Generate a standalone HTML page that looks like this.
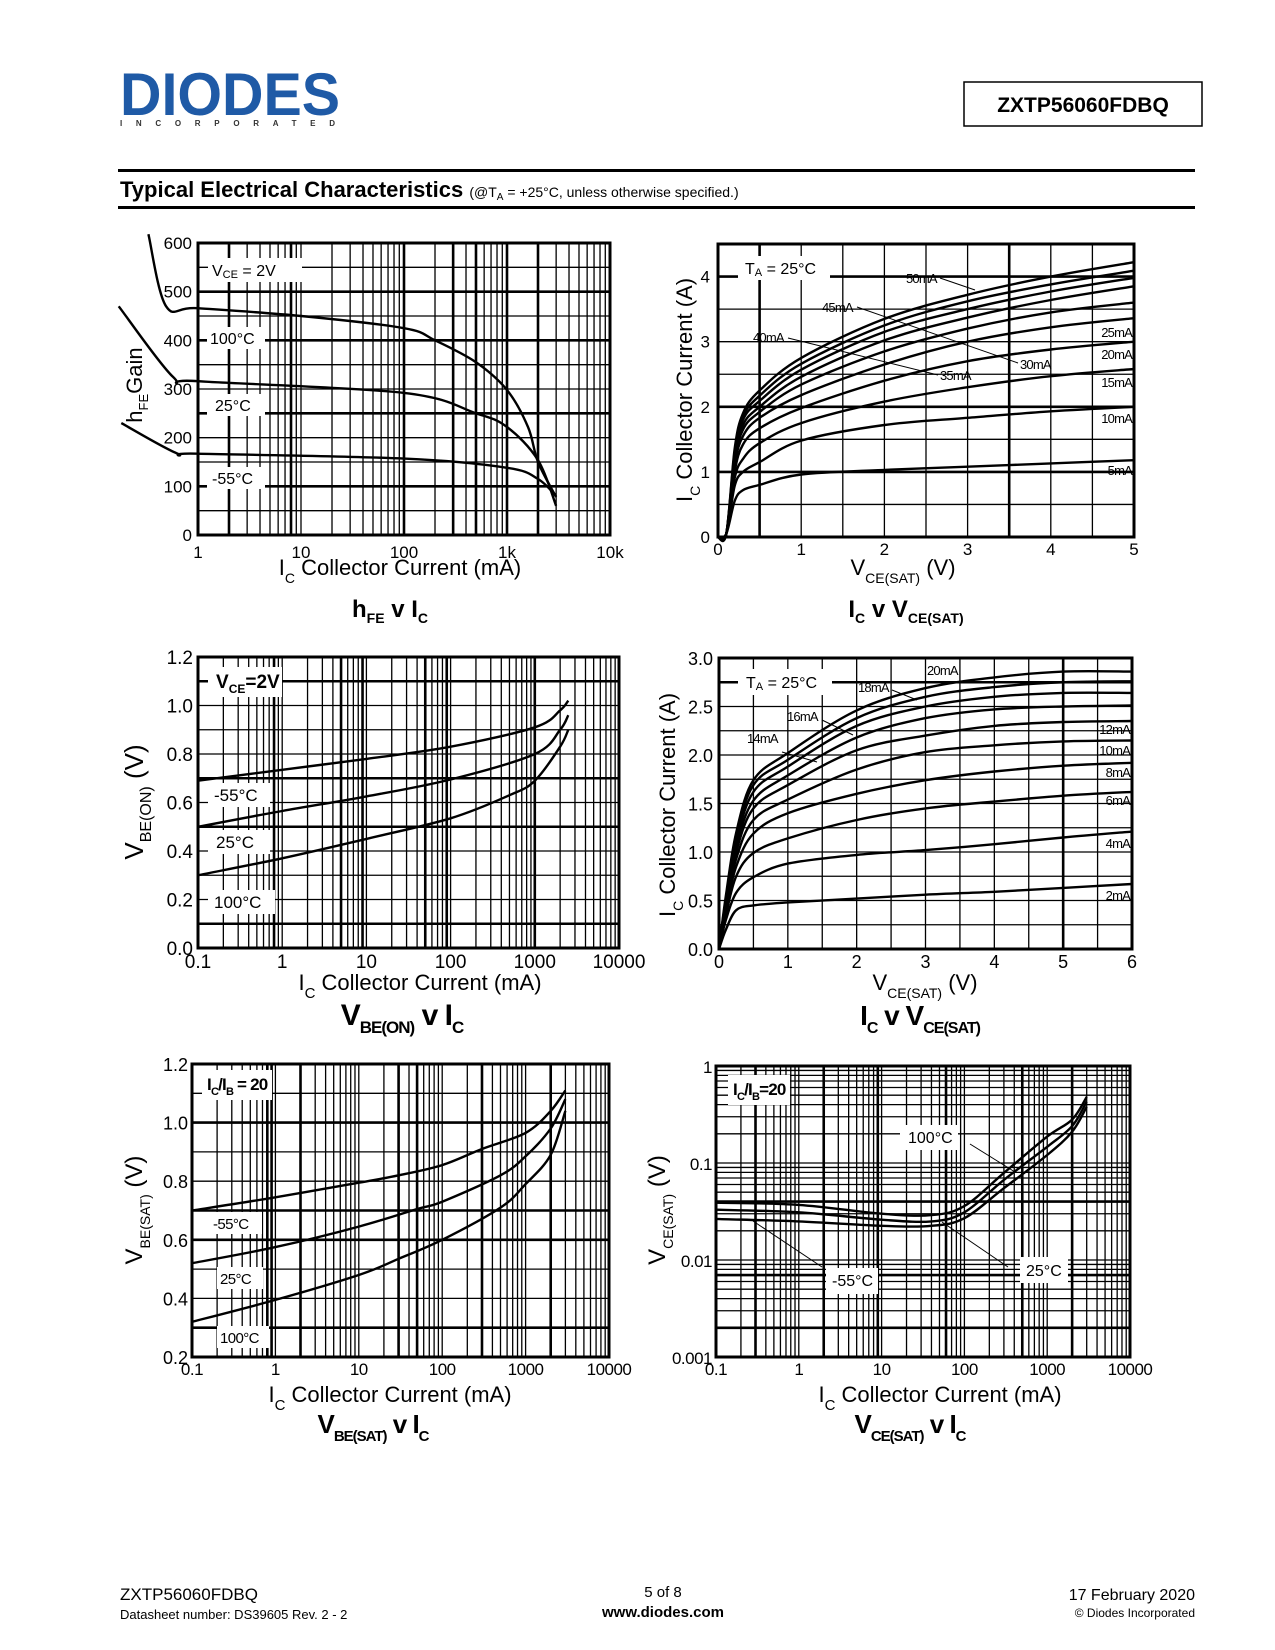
<!DOCTYPE html>
<html><head><meta charset="utf-8"><title>ZXTP56060FDBQ Typical Electrical Characteristics</title>
<style>
html,body{margin:0;padding:0;background:#fff;}
svg{display:block;font-family:"Liberation Sans",Arial,sans-serif;}
</style></head>
<body>
<svg id="page" width="1275" height="1650" viewBox="0 0 1275 1650" xmlns="http://www.w3.org/2000/svg">
  <g>
    <text x="120" y="115" font-size="60" font-weight="bold" fill="#1f5aa6" textLength="220" lengthAdjust="spacingAndGlyphs">DIODES</text>
    <text x="120" y="126" font-size="8" font-weight="bold" fill="#333" textLength="215" lengthAdjust="spacing">INCORPORATED</text>
    <rect x="964" y="82" width="238" height="44" fill="none" stroke="#000" stroke-width="1.5"/>
    <text x="1083" y="112" font-size="21" font-weight="bold" text-anchor="middle">ZXTP56060FDBQ</text>
    <rect x="118" y="169" width="1077" height="3" fill="#000"/>
    <text x="120" y="197" font-size="22" font-weight="bold">Typical Electrical Characteristics <tspan font-size="14" font-weight="normal">(@T<tspan font-size="10" dy="3">A</tspan><tspan dy="-3"> = +25°C, unless otherwise specified.)</tspan></tspan></text>
    <rect x="118" y="206" width="1077" height="3" fill="#000"/>
  </g>
  <g font-size="15">
    <text x="120" y="1600" font-size="17">ZXTP56060FDBQ</text>
    <text x="120" y="1619" font-size="13">Datasheet number: DS39605 Rev. 2 - 2</text>
    <text x="663" y="1597" text-anchor="middle" font-size="15">5 of 8</text>
    <text x="663" y="1617" text-anchor="middle" font-size="15" font-weight="bold">www.diodes.com</text>
    <text x="1195" y="1600" text-anchor="end" font-size="16">17 February 2020</text>
    <text x="1195" y="1617" text-anchor="end" font-size="12">© Diodes Incorporated</text>
  </g>
  <g id="charts"></g>
</svg>
<script>
// ---- Chart 1: hFE v IC ----
const hfeTicksY = [0,100,200,300,400,500,600];
const hfeTicksX = ["1","10","100","1k","10k"];
const hfe100X = [0.33,0.49,1,10,100,200,500,1000,1600,2000,3000];
const hfe100Y = [618,470,466,450,425,400,355,298,222,150,78];
const hfe25X = [0.17,0.57,1,100,500,1000,2000,3000];
const hfe25Y = [470,325,316,292,250,222,154,60];
const hfem55X = [0.18,0.62,1,100,1000,2000,3000];
const hfem55Y = [230,168,167,157,138,115,80];
// ---- Chart 2: IC v VCE(SAT), 5..50mA ----
const vce2 = [0,0.1,0.2,0.3,0.5,1,2,3,4,5];
const ib2Labels = ["50mA","45mA","40mA","35mA","30mA","25mA","20mA","15mA","10mA","5mA"];
const ic2_50 = [0,0.05,1.35,1.9,2.25,2.75,3.35,3.72,4.0,4.22];
const ic2_45 = [0,0.05,1.3,1.85,2.17,2.66,3.25,3.62,3.88,4.09];
const ic2_40 = [0,0.05,1.25,1.8,2.09,2.57,3.15,3.5,3.77,3.98];
const ic2_35 = [0,0.05,1.2,1.72,2.0,2.46,3.02,3.37,3.64,3.85];
const ic2_30 = [0,0.05,1.15,1.65,1.92,2.34,2.85,3.2,3.45,3.6];
const ic2_25 = [0,0.05,1.1,1.55,1.83,2.18,2.65,3.0,3.22,3.36];
const ic2_20 = [0,0.05,1.0,1.42,1.67,1.98,2.4,2.7,2.88,3.0];
const ic2_15 = [0,0.05,0.9,1.2,1.44,1.75,2.08,2.3,2.47,2.58];
const ic2_10 = [0,0.05,0.78,1.0,1.15,1.48,1.72,1.83,1.93,2.0];
const ic2_5 = [0,0.05,0.55,0.72,0.8,0.96,1.03,1.08,1.13,1.18];
// ---- Chart 3: VBE(ON) v IC ----
const vbeonTicksY = ["0.0","0.2","0.4","0.6","0.8","1.0","1.2"];
const logTicksX = ["0.1","1","10","100","1000","10000"];
const vbeonXm55 = [0.1,1,10,100,1000,2000,2500];
const vbeonYm55 = [0.69,0.735,0.78,0.83,0.91,0.98,1.02];
const vbeonX25 = [0.1,1,10,100,1000,2000,2500];
const vbeonY25 = [0.5,0.565,0.625,0.695,0.8,0.9,0.96];
const vbeonX100 = [0.1,1,10,100,500,1000,2000,2500];
const vbeonY100 = [0.3,0.37,0.45,0.535,0.63,0.69,0.83,0.9];
// ---- Chart 4: IC v VCE(SAT), 2..20mA ----
const vce4 = [0,0.1,0.25,0.5,1,2,3,4,5,6];
const ic4_20 = [0,0.55,1.2,1.74,2.02,2.46,2.69,2.8,2.86,2.86];
const ic4_18 = [0,0.52,1.15,1.69,1.95,2.38,2.6,2.7,2.75,2.76];
const ic4_16 = [0,0.5,1.1,1.62,1.88,2.3,2.5,2.6,2.64,2.64];
const ic4_14 = [0,0.47,1.05,1.53,1.79,2.18,2.38,2.47,2.5,2.51];
const ic4_12 = [0,0.45,1.0,1.45,1.69,2.05,2.2,2.3,2.34,2.35];
const ic4_10 = [0,0.42,0.93,1.33,1.54,1.85,2.03,2.1,2.14,2.15];
const ic4_8 = [0,0.4,0.85,1.19,1.40,1.60,1.74,1.83,1.89,1.92];
const ic4_6 = [0,0.35,0.75,0.99,1.14,1.33,1.45,1.52,1.58,1.62];
const ic4_4 = [0,0.3,0.58,0.74,0.88,0.97,1.02,1.08,1.15,1.21];
const ic4_2 = [0,0.2,0.4,0.45,0.48,0.52,0.56,0.59,0.63,0.67];
// ---- Chart 5: VBE(SAT) v IC ----
const vbesatTicksY = ["0.2","0.4","0.6","0.8","1.0","1.2"];
const vbesatXm55 = [0.1,1,10,30,100,300,1000,2000,3000];
const vbesatYm55 = [0.70,0.745,0.795,0.82,0.855,0.91,0.965,1.04,1.11];
const vbesatX25 = [0.1,1,10,50,100,500,1000,2000,3000];
const vbesatY25 = [0.52,0.575,0.645,0.705,0.73,0.82,0.885,0.98,1.08];
const vbesatX100 = [0.1,1,10,30,100,500,1000,2000,3000];
const vbesatY100 = [0.32,0.395,0.48,0.535,0.6,0.71,0.79,0.89,1.04];
// ---- Chart 6: VCE(SAT) v IC ----
const vcesatTicksY = ["0.001","0.01","0.1","1"];
const vcesatX = [0.1,1,10,40,100,300,1000,2000,3000];
const vcesat100 = [0.039,0.037,0.03,0.029,0.036,0.079,0.187,0.28,0.48];
const vcesat25 = [0.033,0.031,0.026,0.025,0.031,0.067,0.147,0.24,0.43];
const vcesatm55 = [0.0265,0.025,0.0225,0.0225,0.027,0.055,0.121,0.21,0.38];

const NS = "http://www.w3.org/2000/svg";
const root = document.getElementById('charts');
function mk(parent, tag, attrs, name, inter) {
  const el = document.createElementNS(NS, tag);
  for (const k in attrs) el.setAttribute(k, attrs[k]);
  
  
  parent.appendChild(el);
  return el;
}
function lin(d0, d1, p0, p1) { return v => p0 + (v - d0) / (d1 - d0) * (p1 - p0); }
function lg(d0, d1, p0, p1) { const a = Math.log10(d0), b = Math.log10(d1); return v => p0 + (Math.log10(v) - a) / (b - a) * (p1 - p0); }
function smooth(pts) {
  let d = 'M' + pts[0][0].toFixed(1) + ',' + pts[0][1].toFixed(1);
  for (let i = 0; i < pts.length - 1; i++) {
    const p0 = pts[i - 1] || pts[i], p1 = pts[i], p2 = pts[i + 1], p3 = pts[i + 2] || p2;
    const c1 = [p1[0] + (p2[0] - p0[0]) / 6, p1[1] + (p2[1] - p0[1]) / 6];
    const c2 = [p2[0] - (p3[0] - p1[0]) / 6, p2[1] - (p3[1] - p1[1]) / 6];
    d += 'C' + c1.map(n => n.toFixed(1)) + ' ' + c2.map(n => n.toFixed(1)) + ' ' + p2[0].toFixed(1) + ',' + p2[1].toFixed(1);
  }
  return d;
}
function series(g, xs, ys, sx, sy, name) {
  const pts = xs.map((x, i) => [sx(x), sy(ys[i])]);
  mk(g, 'path', { d: smooth(pts), fill: 'none', stroke: '#000', 'stroke-width': 2.4, 'stroke-linejoin': 'round' }, name, false);
}
function txt(g, x, y, html, size, anchor, name, extra) {
  const t = mk(g, 'text', Object.assign({ x: x, y: y, 'font-size': size, 'text-anchor': anchor || 'start' }, extra || {}), name, false);
  t.innerHTML = html;
  return t;
}
function box(g, x, y, w, h, name) { mk(g, 'rect', { x: x, y: y, width: w, height: h, fill: '#fff' }, name, false); }
function ln(g, x1, y1, x2, y2, w, name) { mk(g, 'line', { x1: x1, y1: y1, x2: x2, y2: y2, stroke: '#000', 'stroke-width': w }, name, false); }
function logLines(d0, d1) { const r = []; for (let e = Math.log10(d0); e < Math.log10(d1); e++) for (let k = 1; k <= 9; k++) r.push(k * Math.pow(10, e)); r.push(d1); return r; }
function frame(g, L, T, R, B) { mk(g, 'rect', { x: L, y: T, width: R - L, height: B - T, fill: 'none', stroke: '#000', 'stroke-width': 3 }, 'plot-frame', false); }

// ===== Chart 1 =====
(function () {
  const g = mk(root, 'g', {}, 'hfe-vs-ic-chart', false);
  const L = 198, R = 610, T = 243, B = 535;
  const sx = lg(1, 10000, L, R), sy = lin(0, 600, B, T);
  const gg = mk(g, 'g', {}, 'grid', false);
  logLines(1, 10000).forEach(v => ln(gg, sx(v), T, sx(v), B, [2, 8, 100, 300, 500, 1000, 2000].includes(Math.round(v)) ? 2.6 : 1.3, 'grid-line-x'));
  for (let v = 0; v <= 600; v += 50) ln(gg, L, sy(v), R, sy(v), [100, 250, 400, 500].includes(v) ? 2.6 : 1.3, 'grid-line-y');
  frame(g, L, T, R, B);
  hfeTicksY.forEach(v => txt(g, 192, sy(v) + 6, v, 17, 'end', 'y-tick-label'));
  hfeTicksX.forEach((s, i) => txt(g, sx(Math.pow(10, i)), 558, s, 17, 'middle', 'x-tick-label'));
  box(g, 208, 258, 94, 24, 'vce-label-bg'); txt(g, 212, 276, 'V<tspan font-size="11" dy="2">CE</tspan><tspan dy="-2"> = 2V</tspan>', 16, 'start', 'vce-condition-label');
  box(g, 207, 327, 58, 22, 'label-bg'); txt(g, 210, 344, '100°C', 16, 'start', 'series-label-100c');
  box(g, 207, 394, 58, 22, 'label-bg'); txt(g, 215, 411, '25°C', 16, 'start', 'series-label-25c');
  box(g, 207, 467, 58, 22, 'label-bg'); txt(g, 212, 484, '-55°C', 16, 'start', 'series-label-m55c');
  series(g, hfe100X, hfe100Y, sx, sy, 'series-100c');
  series(g, hfe25X, hfe25Y, sx, sy, 'series-25c');
  series(g, hfem55X, hfem55Y, sx, sy, 'series-m55c');
  txt(g, 142, 385, 'h<tspan font-size="13" dy="6">FE</tspan><tspan dy="-6">Gain</tspan>', 22, 'middle', 'y-axis-title', { transform: 'rotate(-90 142 385)' });
  txt(g, 400, 575, 'I<tspan font-size="14" dy="8">C</tspan><tspan dy="-8">   Collector Current (mA)</tspan>', 22, 'middle', 'x-axis-title');
  txt(g, 390, 617, 'h<tspan font-size="14" dy="6">FE</tspan><tspan dy="-6"> v I</tspan><tspan font-size="14" dy="6">C</tspan>', 24, 'middle', 'chart-title', { 'font-weight': 'bold' });
})();

// ===== Chart 2 =====
(function () {
  const g = mk(root, 'g', {}, 'ic-vs-vcesat-50ma-chart', false);
  const L = 718, R = 1134, T = 244, B = 537;
  const sx = lin(0, 5, L, R), sy = lin(0, 4.5, B, T);
  const gg = mk(g, 'g', {}, 'grid', false);
  for (let v = 0.5; v < 5; v += 0.5) ln(gg, sx(v), T, sx(v), B, (v === 0.5 || v === 3.5) ? 2.6 : 1.3, 'grid-line-x');
  for (let v = 0.5; v < 4.5; v += 0.5) ln(gg, L, sy(v), R, sy(v), (v === 1 || v === 2 || v === 4) ? 2.6 : 1.3, 'grid-line-y');
  frame(g, L, T, R, B);
  [0, 1, 2, 3, 4].forEach(v => txt(g, 710, sy(v) + 6, v, 17, 'end', 'y-tick-label'));
  [0, 1, 2, 3, 4, 5].forEach(v => txt(g, sx(v), 555, v, 17, 'middle', 'x-tick-label'));
  box(g, 738, 256, 92, 24, 'ta-label-bg');
  txt(g, 745, 274, 'T<tspan font-size="11" dy="2">A</tspan><tspan dy="-2"> = 25°C</tspan>', 16, 'start', 'ta-condition-label');
  const sets = [ic2_50, ic2_45, ic2_40, ic2_35, ic2_30, ic2_25, ic2_20, ic2_15, ic2_10, ic2_5];
  sets.forEach((ys, i) => series(g, vce2, ys, sx, sy, 'series-' + ib2Labels[i]));
  const lab = (x, y, s, a) => txt(g, x, y, s, 13, a || 'start', 'curve-label', { 'letter-spacing': '-0.8' });
  lab(906, 283, '50mA'); ln(g, 940, 278, 975, 290, 1, 'leader-line');
  lab(822, 312, '45mA'); ln(g, 857, 307, 1018, 363, 1, 'leader-line');
  lab(753, 342, '40mA'); ln(g, 788, 338, 938, 375, 1, 'leader-line');
  lab(940, 380, '35mA'); lab(1020, 369, '30mA');
  lab(1132, 337, '25mA', 'end'); lab(1132, 359, '20mA', 'end'); lab(1132, 387, '15mA', 'end'); lab(1132, 423, '10mA', 'end'); lab(1132, 475, '5mA', 'end');
  txt(g, 692, 390, 'I<tspan font-size="14" dy="8">C</tspan><tspan dy="-8">  Collector Current (A)</tspan>', 22, 'middle', 'y-axis-title', { transform: 'rotate(-90 692 390)' });
  txt(g, 903, 575, 'V<tspan font-size="14" dy="8">CE(SAT)</tspan><tspan dy="-8"> (V)</tspan>', 22, 'middle', 'x-axis-title');
  txt(g, 906, 617, 'I<tspan font-size="14" dy="6">C</tspan><tspan dy="-6"> v V</tspan><tspan font-size="14" dy="6">CE(SAT)</tspan>', 24, 'middle', 'chart-title', { 'font-weight': 'bold' });
})();

// ===== Chart 3 =====
(function () {
  const g = mk(root, 'g', {}, 'vbeon-vs-ic-chart', false);
  const L = 198, R = 619, T = 657, B = 948;
  const sx = lg(0.1, 10000, L, R), sy = lin(0, 1.2, B, T);
  const gg = mk(g, 'g', {}, 'grid', false);
  logLines(0.1, 10000).forEach(v => ln(gg, sx(v), T, sx(v), B, [0.8, 5, 9, 50, 90, 1000].some(t => Math.abs(t - v) < 1e-6) ? 2.6 : 1.3, 'grid-line-x'));
  for (let i = 1; i < 12; i++) ln(gg, L, sy(i / 10), R, sy(i / 10), [1, 5, 7, 11].includes(i) ? 2.6 : 1.3, 'grid-line-y');
  frame(g, L, T, R, B);
  vbeonTicksY.forEach((s, i) => txt(g, 193, sy(i * 0.2) + 7, s, 19, 'end', 'y-tick-label'));
  logTicksX.forEach((s, i) => txt(g, sx(0.1 * Math.pow(10, i)), 968, s, 19, 'middle', 'x-tick-label'));
  box(g, 208, 667, 74, 30, 'vce-label-bg');
  txt(g, 216, 688, 'V<tspan font-size="12" dy="5">CE</tspan><tspan dy="-5">=2V</tspan>', 19, 'start', 'vce-condition-label', { 'font-weight': 'bold' });
  box(g, 208, 783, 62, 24, 'label-bg'); txt(g, 214, 801, '-55°C', 17, 'start', 'series-label-m55c');
  box(g, 208, 830, 62, 24, 'label-bg'); txt(g, 216, 848, '25°C', 17, 'start', 'series-label-25c');
  box(g, 208, 890, 67, 24, 'label-bg'); txt(g, 214, 908, '100°C', 17, 'start', 'series-label-100c');
  series(g, vbeonXm55, vbeonYm55, sx, sy, 'series-m55c');
  series(g, vbeonX25, vbeonY25, sx, sy, 'series-25c');
  series(g, vbeonX100, vbeonY100, sx, sy, 'series-100c');
  txt(g, 143, 802, 'V<tspan font-size="16" dy="8">BE(ON)</tspan><tspan dy="-8">  (V)</tspan>', 26, 'middle', 'y-axis-title', { transform: 'rotate(-90 143 802)' });
  txt(g, 420, 990, 'I<tspan font-size="15" dy="8">C</tspan><tspan dy="-8">   Collector Current (mA)</tspan>', 22, 'middle', 'x-axis-title');
  txt(g, 402, 1025, 'V<tspan font-size="17" dy="8">BE(ON)</tspan><tspan dy="-8"> v I</tspan><tspan font-size="17" dy="8">C</tspan>', 30, 'middle', 'chart-title', { 'font-weight': 'bold', 'letter-spacing': '-1' });
})();

// ===== Chart 4 =====
(function () {
  const g = mk(root, 'g', {}, 'ic-vs-vcesat-20ma-chart', false);
  const L = 719, R = 1132, T = 658, B = 949;
  const sx = lin(0, 6, L, R), sy = lin(0, 3, B, T);
  const gg = mk(g, 'g', {}, 'grid', false);
  for (let v = 0.5; v < 6; v += 0.5) ln(gg, sx(v), T, sx(v), B, v === 5 ? 2.6 : 1.3, 'grid-line-x');
  for (let v = 0.25; v < 3; v += 0.25) ln(gg, L, sy(v), R, sy(v), v === 2.75 ? 2.6 : 1.3, 'grid-line-y');
  frame(g, L, T, R, B);
  for (let i = 0; i <= 6; i++) txt(g, 713, sy(i * 0.5) + 7, (i * 0.5).toFixed(1), 18, 'end', 'y-tick-label');
  for (let i = 0; i <= 6; i++) txt(g, sx(i), 968, i, 18, 'middle', 'x-tick-label');
  box(g, 738, 669, 94, 26, 'ta-label-bg');
  txt(g, 746, 688, 'T<tspan font-size="11" dy="2">A</tspan><tspan dy="-2"> = 25°C</tspan>', 16, 'start', 'ta-condition-label');
  const sets = [ic4_20, ic4_18, ic4_16, ic4_14, ic4_12, ic4_10, ic4_8, ic4_6, ic4_4, ic4_2];
  sets.forEach((ys, i) => series(g, vce4, ys, sx, sy, 'series-' + (20 - 2 * i) + 'ma'));
  const lab = (x, y, s, a) => txt(g, x, y, s, 13, a || 'start', 'curve-label', { 'letter-spacing': '-0.8' });
  lab(927, 675, '20mA'); lab(858, 692, '18mA'); ln(g, 892, 690, 917, 700, 1, 'leader-line');
  lab(787, 721, '16mA'); ln(g, 822, 720, 853, 735, 1, 'leader-line');
  lab(747, 743, '14mA'); ln(g, 782, 752, 817, 762, 1, 'leader-line');
  lab(1130, 734, '12mA', 'end'); lab(1130, 755, '10mA', 'end'); lab(1130, 777, '8mA', 'end'); lab(1130, 805, '6mA', 'end'); lab(1130, 848, '4mA', 'end'); lab(1130, 900, '2mA', 'end');
  txt(g, 675, 805, 'I<tspan font-size="14" dy="8">C</tspan><tspan dy="-8">  Collector Current (A)</tspan>', 22, 'middle', 'y-axis-title', { transform: 'rotate(-90 675 805)' });
  txt(g, 925, 990, 'V<tspan font-size="14" dy="8">CE(SAT)</tspan><tspan dy="-8"> (V)</tspan>', 22, 'middle', 'x-axis-title');
  txt(g, 920, 1025, 'I<tspan font-size="16" dy="8">C</tspan><tspan dy="-8"> v V</tspan><tspan font-size="16" dy="8">CE(SAT)</tspan>', 28, 'middle', 'chart-title', { 'font-weight': 'bold', 'letter-spacing': '-1' });
})();

// ===== Chart 5 =====
(function () {
  const g = mk(root, 'g', {}, 'vbesat-vs-ic-chart', false);
  const L = 192, R = 609, T = 1064, B = 1357;
  const sx = lg(0.1, 10000, L, R), sy = lin(0.2, 1.2, B, T);
  const gg = mk(g, 'g', {}, 'grid', false);
  logLines(0.1, 10000).forEach(v => ln(gg, sx(v), T, sx(v), B, [0.8, 0.9, 2, 30, 50, 300, 2000].some(t => Math.abs(t - v) < 1e-6) ? 2.6 : 1.3, 'grid-line-x'));
  for (let i = 3; i < 12; i++) ln(gg, L, sy(i / 10), R, sy(i / 10), [3, 6, 7, 10].includes(i) ? 2.6 : 1.3, 'grid-line-y');
  frame(g, L, T, R, B);
  vbesatTicksY.forEach((s, i) => txt(g, 188, sy(0.2 + i * 0.2) + 7, s, 18, 'end', 'y-tick-label'));
  logTicksX.forEach((s, i) => txt(g, sx(0.1 * Math.pow(10, i)), 1375, s, 17, 'middle', 'x-tick-label', { 'letter-spacing': '-0.5' }));
  box(g, 202, 1070, 70, 30, 'ratio-label-bg');
  txt(g, 207, 1090, 'I<tspan font-size="11" dy="5">C</tspan><tspan dy="-5">/I</tspan><tspan font-size="11" dy="5">B</tspan><tspan dy="-5"> = 20</tspan>', 17, 'start', 'ratio-condition-label', { 'font-weight': 'bold', 'letter-spacing': '-0.8' });
  box(g, 210, 1212, 52, 22, 'label-bg'); txt(g, 213, 1229, '-55°C', 15, 'start', 'series-label-m55c', { 'letter-spacing': '-0.6' });
  box(g, 217, 1267, 46, 22, 'label-bg'); txt(g, 220, 1284, '25°C', 15, 'start', 'series-label-25c', { 'letter-spacing': '-0.6' });
  box(g, 217, 1326, 52, 22, 'label-bg'); txt(g, 220, 1343, '100°C', 15, 'start', 'series-label-100c', { 'letter-spacing': '-0.6' });
  series(g, vbesatXm55, vbesatYm55, sx, sy, 'series-m55c');
  series(g, vbesatX25, vbesatY25, sx, sy, 'series-25c');
  series(g, vbesatX100, vbesatY100, sx, sy, 'series-100c');
  txt(g, 142, 1210, 'V<tspan font-size="14" dy="8">BE(SAT)</tspan><tspan dy="-8">   (V)</tspan>', 24, 'middle', 'y-axis-title', { transform: 'rotate(-90 142 1210)' });
  txt(g, 390, 1402, 'I<tspan font-size="15" dy="8">C</tspan><tspan dy="-8">   Collector Current (mA)</tspan>', 22, 'middle', 'x-axis-title');
  txt(g, 373, 1433, 'V<tspan font-size="15" dy="8">BE(SAT)</tspan><tspan dy="-8"> v I</tspan><tspan font-size="15" dy="8">C</tspan>', 26, 'middle', 'chart-title', { 'font-weight': 'bold', 'letter-spacing': '-1' });
})();

// ===== Chart 6 =====
(function () {
  const g = mk(root, 'g', {}, 'vcesat-vs-ic-chart', false);
  const L = 716, R = 1130, T = 1066, B = 1357;
  const sx = lg(0.1, 10000, L, R), sy = lg(0.001, 1, B, T);
  const gg = mk(g, 'g', {}, 'grid', false);
  logLines(0.1, 10000).forEach(v => ln(gg, sx(v), T, sx(v), B, [0.3, 2, 9, 60, 500, 2000].some(t => Math.abs(t - v) < 1e-6) ? 2.6 : 1.3, 'grid-line-x'));
  logLines(0.001, 1).forEach(v => ln(gg, L, sy(v), R, sy(v), [0.002, 0.007, 0.04].some(t => Math.abs(t - v) < 1e-9) ? 2.6 : 1.3, 'grid-line-y'));
  frame(g, L, T, R, B);
  vcesatTicksY.forEach((s, i) => txt(g, 712, sy(0.001 * Math.pow(10, i)) + 7, s, 17, 'end', 'y-tick-label', { 'letter-spacing': '-0.5' }));
  logTicksX.forEach((s, i) => txt(g, sx(0.1 * Math.pow(10, i)), 1375, s, 17, 'middle', 'x-tick-label', { 'letter-spacing': '-0.5' }));
  box(g, 728, 1075, 62, 30, 'ratio-label-bg');
  txt(g, 733, 1095, 'I<tspan font-size="11" dy="5">C</tspan><tspan dy="-5">/I</tspan><tspan font-size="11" dy="5">B</tspan><tspan dy="-5">=20</tspan>', 17, 'start', 'ratio-condition-label', { 'font-weight': 'bold', 'letter-spacing': '-0.8' });
  series(g, vcesatX, vcesat100, sx, sy, 'series-100c');
  series(g, vcesatX, vcesat25, sx, sy, 'series-25c');
  series(g, vcesatX, vcesatm55, sx, sy, 'series-m55c');
  box(g, 900, 1125, 58, 25, 'label-bg'); txt(g, 908, 1143, '100°C', 16, 'start', 'series-label-100c');
  ln(g, 970, 1144, 1015, 1172, 1, 'leader-line');
  box(g, 1020, 1257, 48, 26, 'label-bg'); txt(g, 1026, 1276, '25°C', 16, 'start', 'series-label-25c');
  ln(g, 1008, 1267, 942, 1222, 1, 'leader-line');
  box(g, 826, 1268, 52, 26, 'label-bg'); txt(g, 832, 1286, '-55°C', 16, 'start', 'series-label-m55c');
  ln(g, 822, 1267, 753, 1221, 1, 'leader-line');
  txt(g, 665, 1210, 'V<tspan font-size="14" dy="8">CE(SAT)</tspan><tspan dy="-8"> (V)</tspan>', 24, 'middle', 'y-axis-title', { transform: 'rotate(-90 665 1210)' });
  txt(g, 940, 1402, 'I<tspan font-size="15" dy="8">C</tspan><tspan dy="-8">   Collector Current (mA)</tspan>', 22, 'middle', 'x-axis-title');
  txt(g, 910, 1433, 'V<tspan font-size="15" dy="8">CE(SAT)</tspan><tspan dy="-8"> v  I</tspan><tspan font-size="15" dy="8">C</tspan>', 26, 'middle', 'chart-title', { 'font-weight': 'bold', 'letter-spacing': '-1' });
})();
</script>
</body></html>
